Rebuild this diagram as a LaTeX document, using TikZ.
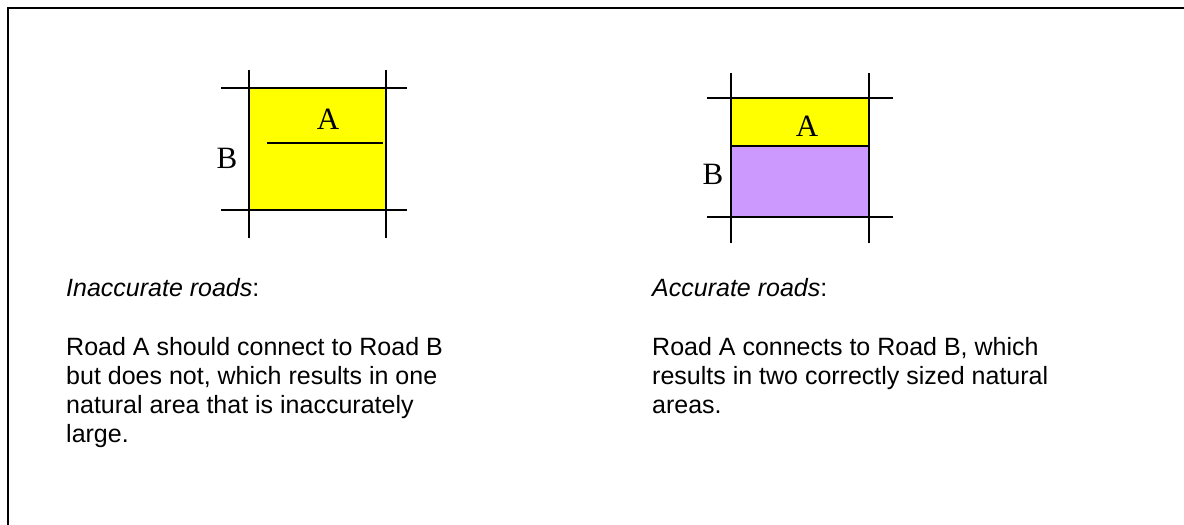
\documentclass[tikz,border=0pt]{standalone}
\usepackage{fontspec}
\setmainfont{Liberation Serif}
\setsansfont{Liberation Sans}
\usetikzlibrary{positioning}

\definecolor{areayellow}{HTML}{FFFF00}
\definecolor{areapurple}{HTML}{CC99FF}

\begin{document}
\begin{tikzpicture}[x=1pt, y=-1pt,
    road/.style={line width=1.5pt},
    roadname/.style={font=\fontsize{31}{36}\selectfont, inner sep=0pt},
    notetext/.style={font=\sffamily\fontsize{25}{29}\selectfont, align=left, inner sep=0pt}]
    \useasboundingbox (0,0) rectangle (1184,525);

    % page frame (cut off at right and bottom)
    \draw[line width=2pt] (8,525) -- (8,8) -- (1184,8);

    % Inaccurate roads: one large area
    \fill[areayellow] (249,88) rectangle (386,210);
    \foreach \x in {249,386} {
        \draw[road] (\x,70) -- (\x,238);
    }
    \foreach \y in {88,210} {
        \draw[road] (221,\y) -- (407,\y);
    }
    \draw[road] (267,143) -- (383,143);
    \node[roadname] (leftA) at (328,119) {A};
    \node[roadname] (leftB) at (227,158) {B};

    % Accurate roads: two areas
    \fill[areayellow] (731,98) rectangle (869,146);
    \fill[areapurple] (731,146) rectangle (869,217);
    \foreach \x in {731,869} {
        \draw[road] (\x,73) -- (\x,243);
    }
    \foreach \y in {98,217} {
        \draw[road] (707,\y) -- (893,\y);
    }
    \draw[road] (731,146) -- (869,146);
    \node[roadname] (rightA) at (807,126) {A};
    \node[roadname] (rightB) at (713,174) {B};

    % Captions
    \node[notetext, anchor=base west] (lefthead) at (66,296) {\textit{Inaccurate roads}:};
    \node[notetext, anchor=north west] (lefttext) at (66,337)
        {Road A should connect to Road B\\but does not, which results in one\\natural area that is inaccurately\\large.};
    \node[notetext, anchor=base west] (righthead) at (652,296) {\textit{Accurate roads}:};
    \node[notetext, anchor=north west] (righttext) at (652,337)
        {Road A connects to Road B, which\\results in two correctly sized natural\\areas.};
\end{tikzpicture}
\end{document}
